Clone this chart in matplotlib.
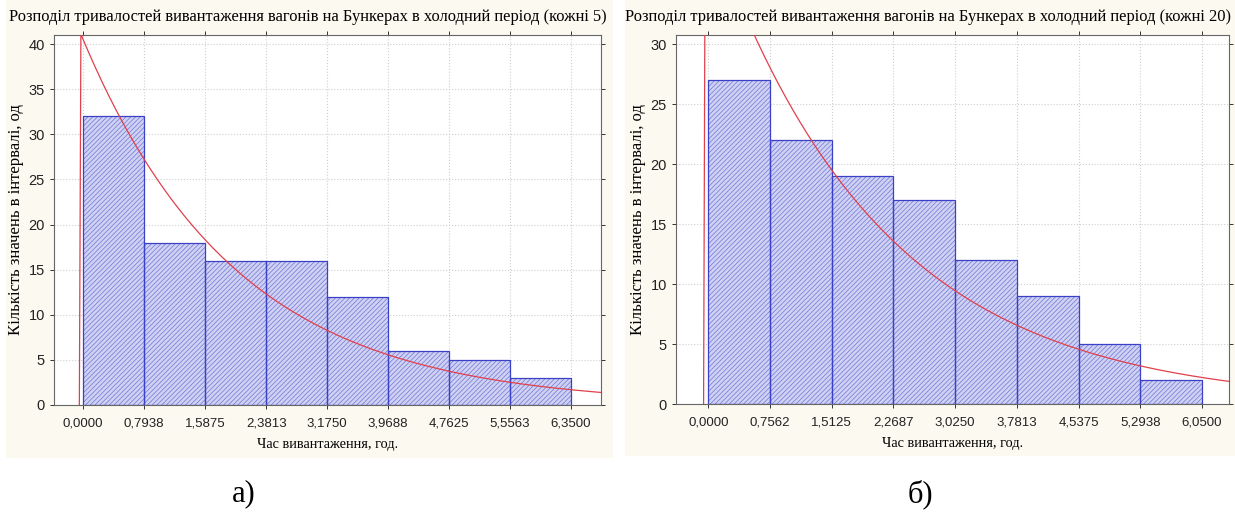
import numpy as np
import matplotlib
matplotlib.use("Agg")
import matplotlib.pyplot as plt
from matplotlib.patches import Rectangle

# histogram a) - bin width 0.79375
edges_a = [0.0, 0.79375, 1.5875, 2.38125, 3.175, 3.96875, 4.7625, 5.55625, 6.35]
counts_a = [32, 18, 16, 16, 12, 6, 5, 3]
xlabels_a = ["0,0000", "0,7938", "1,5875", "2,3813", "3,1750", "3,9688", "4,7625", "5,5563", "6,3500"]
yticks_a = [0, 5, 10, 15, 20, 25, 30, 35, 40]
# fitted exponential curve a): amplitude, rate, start
fit_a = (40.5, 0.50, -0.05)

# histogram б) - bin width 0.75625
edges_b = [0.0, 0.75625, 1.5125, 2.26875, 3.025, 3.78125, 4.5375, 5.29375, 6.05]
counts_b = [27, 22, 19, 17, 12, 9, 5, 2]
xlabels_b = ["0,0000", "0,7562", "1,5125", "2,2687", "3,0250", "3,7813", "4,5375", "5,2938", "6,0500"]
yticks_b = [0, 5, 10, 15, 20, 25, 30]
fit_b = (40.3, 0.48, -0.058)

title_a = "Розподіл тривалостей вивантаження вагонів на Бункерах в холодний період (кожні 5)"
title_b = "Розподіл тривалостей вивантаження вагонів на Бункерах в холодний період (кожні 20)"
xlab = "Час вивантаження, год."
ylab = "Кількість значень в інтервалі, од"

plt.rcParams['hatch.linewidth'] = 0.5
serif = ['Liberation Serif', 'DejaVu Serif']
sans = ['Liberation Sans', 'DejaVu Sans']

W, H = 1235, 515
fig = plt.figure(figsize=(W / 100, H / 100), dpi=100)
fig.patch.set_facecolor('white')

# cream panels behind each chart
fig.patches.append(Rectangle((6 / W, 1 - 458 / H), (613 - 6) / W, 458 / H,
                             transform=fig.transFigure, facecolor='#fcf9f0', edgecolor='none', zorder=-10))
fig.patches.append(Rectangle((625 / W, 1 - 456 / H), (1235 - 625) / W, 456 / H,
                             transform=fig.transFigure, facecolor='#fcf9f0', edgecolor='none', zorder=-10))


def draw(rect, edges, counts, xlabels, yticks, xlim, ylim, fit, title, tcx):
    ax = fig.add_axes(rect)
    ax.set_facecolor('white')
    w = edges[1] - edges[0]
    # hatched fill (hatch colour comes from edgecolor), then the dark outline on top
    ax.bar(edges[:-1], counts, width=w, align='edge', facecolor='#cfd1f3',
           edgecolor='#7076d6', linewidth=0, hatch='///////', zorder=2)
    ax.bar(edges[:-1], counts, width=w, align='edge', fill=False,
           edgecolor='#3a41c6', linewidth=0.9, zorder=2.5)
    amp, lam, x0 = fit
    xs = np.linspace(x0 + 0.02, xlim[1], 300)
    ax.plot(np.r_[x0, xs], np.r_[0, amp * np.exp(-lam * xs)], color='#e0404c', lw=0.9, zorder=3)
    ax.set_xlim(*xlim)
    ax.set_ylim(*ylim)
    ax.set_xticks(edges)
    ax.set_xticklabels(xlabels, fontfamily=sans, fontsize=9.5)
    ax.set_yticks(yticks)
    ax.set_yticklabels([str(v) for v in yticks], fontfamily=sans, fontsize=10.5)
    ax.grid(True, color='#cfcfcf', linestyle=':', linewidth=0.8, zorder=0)
    ax.set_axisbelow(True)
    ax.tick_params(axis='both', which='both', direction='out', length=3, width=0.7,
                   colors='#333333', labelcolor='#222222')
    ax.tick_params(top=True, right=True)
    for t in ax.xaxis.get_major_ticks():
        t.tick2line.set_marker(3)  # top ticks pointing down, into the plot
    for t in ax.yaxis.get_major_ticks():
        t.tick2line.set_marker(1)  # right ticks pointing left, into the plot
    ax.tick_params(axis='x', pad=6)
    for s in ax.spines.values():
        s.set_color('#666666')
        s.set_linewidth(0.8)
    ax.set_xlabel(xlab, fontfamily=serif, fontsize=10.3, labelpad=6)
    ax.set_ylabel(ylab, fontfamily=serif, fontsize=12, labelpad=3)
    fig.text(tcx / W, 1 - 17 / H, title, ha='center', va='center', fontfamily=serif, fontsize=11.9)
    return ax


ax1 = draw([54 / W, 1 - 405 / H, (601 - 54) / W, (405 - 34.7) / H],
           edges_a, counts_a, xlabels_a, yticks_a, (-0.38, 6.74), (0, 41.05), fit_a, title_a, 308)
ax2 = draw([676 / W, 1 - 404 / H, (1229 - 676) / W, (404 - 34.7) / H],
           edges_b, counts_b, xlabels_b, yticks_b, (-0.396, 6.38), (0, 30.78), fit_b, title_b, 928)

fig.text(244 / W, 1 - 494 / H, "а)", ha='center', va='center', fontfamily=serif, fontsize=22)
fig.text(920 / W, 1 - 494 / H, "б)", ha='center', va='center', fontfamily=serif, fontsize=22)

fig.savefig("out.png", dpi=100)
